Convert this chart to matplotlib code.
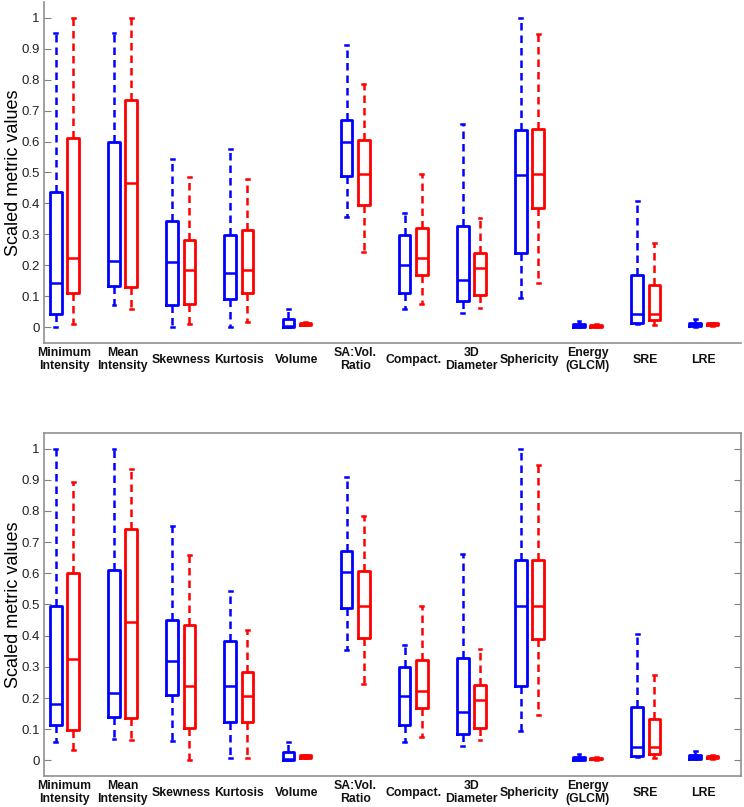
import numpy as np
import matplotlib
matplotlib.use("Agg")
import matplotlib.pyplot as plt

plt.rcParams['font.family'] = ['Liberation Sans', 'DejaVu Sans']

categories = ["Minimum\nIntensity", "Mean\nIntensity", "Skewness", "Kurtosis", "Volume",
              "SA:Vol.\nRatio", "Compact.", "3D\nDiameter", "Sphericity", "Energy\n(GLCM)",
              "SRE", "LRE"]
yticks = [0, 0.1, 0.2, 0.3, 0.4, 0.5, 0.6, 0.7, 0.8, 0.9, 1]
ytick_labels = ["0", "0.1", "0.2", "0.3", "0.4", "0.5", "0.6", "0.7", "0.8", "0.9", "1"]

# top panel, blue series
top_blue_lo  = [0.000, 0.073, 0.002, 0.000, 0.000, 0.355, 0.059, 0.046, 0.094, 0.000, 0.011, 0.003]
top_blue_q1  = [0.043, 0.135, 0.073, 0.093, 0.003, 0.490, 0.112, 0.086, 0.241, 0.001, 0.016, 0.005]
top_blue_med = [0.143, 0.215, 0.210, 0.175, 0.005, 0.600, 0.203, 0.152, 0.492, 0.006, 0.043, 0.010]
top_blue_q3  = [0.437, 0.600, 0.345, 0.298, 0.027, 0.670, 0.297, 0.327, 0.637, 0.010, 0.170, 0.015]
top_blue_hi  = [0.950, 0.950, 0.545, 0.575, 0.060, 0.910, 0.369, 0.656, 1.000, 0.021, 0.407, 0.027]
# top panel, red series
top_red_lo  = [0.010, 0.058, 0.010, 0.018, 0.007, 0.245, 0.077, 0.064, 0.143, 0.002, 0.009, 0.006]
top_red_q1  = [0.110, 0.130, 0.077, 0.110, 0.008, 0.395, 0.168, 0.106, 0.385, 0.003, 0.024, 0.007]
top_red_med = [0.225, 0.465, 0.185, 0.185, 0.012, 0.495, 0.225, 0.193, 0.495, 0.006, 0.043, 0.011]
top_red_q3  = [0.610, 0.735, 0.282, 0.315, 0.016, 0.605, 0.320, 0.239, 0.640, 0.009, 0.136, 0.015]
top_red_hi  = [1.000, 1.000, 0.485, 0.478, 0.017, 0.785, 0.496, 0.354, 0.948, 0.010, 0.273, 0.016]

# bottom panel, blue series
bot_blue_lo  = [0.059, 0.069, 0.061, 0.009, 0.000, 0.353, 0.059, 0.045, 0.093, 0.000, 0.011, 0.003]
bot_blue_q1  = [0.113, 0.139, 0.209, 0.122, 0.002, 0.488, 0.115, 0.086, 0.240, 0.001, 0.014, 0.005]
bot_blue_med = [0.182, 0.217, 0.319, 0.239, 0.005, 0.603, 0.206, 0.155, 0.494, 0.005, 0.042, 0.010]
bot_blue_q3  = [0.496, 0.612, 0.451, 0.384, 0.028, 0.672, 0.298, 0.327, 0.642, 0.010, 0.172, 0.018]
bot_blue_hi  = [1.000, 1.000, 0.753, 0.543, 0.060, 0.910, 0.370, 0.661, 1.000, 0.019, 0.405, 0.029]
# bottom panel, red series
bot_red_lo  = [0.032, 0.064, 0.000, 0.009, 0.007, 0.244, 0.075, 0.064, 0.145, 0.002, 0.009, 0.006]
bot_red_q1  = [0.097, 0.137, 0.104, 0.124, 0.008, 0.394, 0.168, 0.104, 0.388, 0.003, 0.021, 0.007]
bot_red_med = [0.326, 0.445, 0.239, 0.207, 0.012, 0.494, 0.223, 0.193, 0.494, 0.006, 0.042, 0.011]
bot_red_q3  = [0.601, 0.742, 0.433, 0.283, 0.016, 0.606, 0.322, 0.241, 0.642, 0.009, 0.134, 0.015]
bot_red_hi  = [0.893, 0.936, 0.659, 0.418, 0.017, 0.785, 0.496, 0.356, 0.948, 0.010, 0.273, 0.016]


def make_stats(lo, q1, med, q3, hi):
    return [dict(whislo=a, q1=b, med=c, q3=d, whishi=e, fliers=[])
            for a, b, c, d, e in zip(lo, q1, med, q3, hi)]


def draw_boxes(ax, stats, pos, color):
    ax.bxp(stats, positions=pos, widths=0.2, showfliers=False, capwidths=0.05,
           boxprops=dict(color=color, linewidth=2.0),
           medianprops=dict(color=color, linewidth=1.8),
           whiskerprops=dict(color=color, linewidth=1.8, linestyle=(0, (3, 2))),
           capprops=dict(color=color, linewidth=1.8))


fig = plt.figure(figsize=(7.44, 8.07), dpi=100)
ax_top = fig.add_axes([0.0591, 0.575, 0.937, 0.4225])
ax_bot = fig.add_axes([0.0591, 0.0384, 0.937, 0.4251])

x = np.arange(1, len(categories) + 1)
panels = [
    (ax_top, make_stats(top_blue_lo, top_blue_q1, top_blue_med, top_blue_q3, top_blue_hi),
     make_stats(top_red_lo, top_red_q1, top_red_med, top_red_q3, top_red_hi)),
    (ax_bot, make_stats(bot_blue_lo, bot_blue_q1, bot_blue_med, bot_blue_q3, bot_blue_hi),
     make_stats(bot_red_lo, bot_red_q1, bot_red_med, bot_red_q3, bot_red_hi)),
]

for ax, blue_stats, red_stats in panels:
    draw_boxes(ax, blue_stats, x - 0.148, "#0000ff")
    draw_boxes(ax, red_stats, x + 0.148, "#ff0000")
    ax.set_xlim(0.647, 12.64)
    ax.set_ylim(-0.05, 1.05)
    ax.set_yticks(yticks)
    ax.set_yticklabels(ytick_labels, fontsize=9.5, color="#222222")
    ax.set_xticks(x)
    ax.set_xticklabels(categories, fontsize=8.8, fontweight="bold",
                       linespacing=1.05, color="#111111")
    for lab in ax.get_xticklabels():
        lab.set_va("center")
        lab.set_multialignment("center")
    ax.tick_params(axis="x", length=0, pad=12)
    ax.tick_params(axis="y", direction="in", length=5, color="#808080", pad=3)
    ax.set_ylabel("Scaled metric values", fontsize=13)
    ax.yaxis.set_label_coords(-0.031, 0.5)
    for sp in ax.spines.values():
        sp.set_color("#909090")
        sp.set_linewidth(1.2)

ax_top.spines["top"].set_visible(False)
ax_top.spines["right"].set_visible(False)
ax_bot.tick_params(axis="y", right=True)

fig.savefig("out.png", dpi=100)
